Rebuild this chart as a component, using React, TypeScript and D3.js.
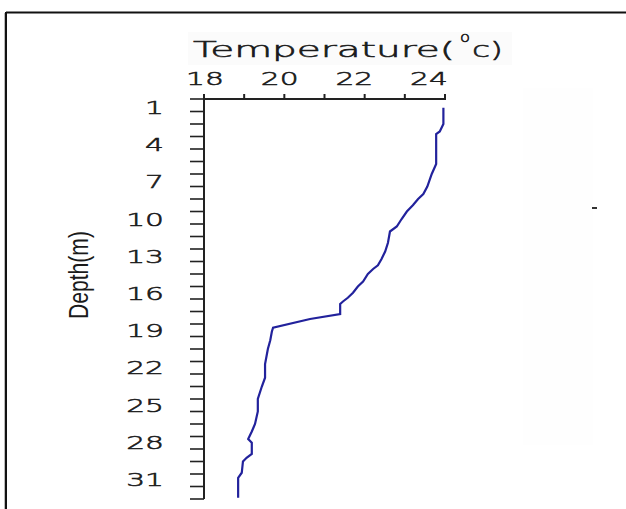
import React from "react";
import * as d3 from "d3";

const depths = [0.7, 2.0, 2.6, 2.8, 5.2, 6.0, 7.0, 7.6, 8.0, 8.5, 9.0, 9.6, 10.2, 10.6, 11.5, 12.2, 12.8, 13.3, 13.6, 14.0, 14.6, 15.0, 15.5, 15.9, 16.2, 16.4, 17.2, 17.6, 18.3, 18.6, 19.3, 20.0, 21.2, 22.3, 23.0, 24.0, 25.0, 26.0, 26.6, 27.2, 27.5, 28.4, 28.7, 29.0, 29.9, 30.3, 31.9];
const temps = [23.96, 23.96, 23.87, 23.78, 23.78, 23.67, 23.56, 23.46, 23.33, 23.2, 23.05, 22.92, 22.8, 22.63, 22.58, 22.51, 22.42, 22.33, 22.21, 22.08, 21.96, 21.83, 21.71, 21.58, 21.46, 21.39, 21.39, 20.64, 19.72, 19.69, 19.65, 19.59, 19.52, 19.52, 19.44, 19.34, 19.34, 19.27, 19.19, 19.1, 19.19, 19.19, 19.06, 18.97, 18.94, 18.85, 18.85];

const xTickValues = [18, 19, 20, 21, 22, 23, 24];
const xTickLabels = [18, 20, 22, 24];
const yTickValues = d3.range(0, 33);
const yTickLabels = [1, 4, 7, 10, 13, 16, 19, 22, 25, 28, 31];

const xLabel = "Temperature(";
const xUnitSup = "o";
const xUnit = "c)";
const yLabel = "Depth(m)";

export default function App() {
  const x = d3.scaleLinear().domain([18, 24]).range([204, 445]);
  const y = d3.scaleLinear().domain([0, 32]).range([99, 499]);
  // label placement scales (labels in the original are slightly offset from ticks)
  const xl = d3.scaleLinear().domain([18, 24]).range([205, 429]);
  const yl = d3.scaleLinear().domain([1, 31]).range([107.5, 479.5]);

  const pts = depths.map((d, i) => [temps[i], d] as [number, number]);
  const line = d3
    .line<[number, number]>()
    .x((p) => x(p[0]))
    .y((p) => y(p[1]))(pts);

  const textColor = "#1a1a1a";
  const font = "'Liberation Sans', Arial, sans-serif";
  const thin = "'DejaVu Sans', 'Liberation Sans', sans-serif";
  const thinStyle = {
    fontFamily: thin,
    fontWeight: 200,
    fill: textColor,
    stroke: textColor,
    strokeWidth: 0.55,
  } as React.CSSProperties;

  return (
    <svg
      width={626}
      height={509}
      style={{ position: "absolute", left: 0, top: 0, background: "#fff" }}
    >
      <rect x={0} y={0} width={626} height={509} fill="#fff" />
      {/* faint background patches */}
      <rect x={188} y={32} width={324} height={33} fill="#fbfbfb" />
      <rect x={523} y={88} width={70} height={357} fill="#fefefe" />
      {/* frame */}
      <line x1={6} y1={12.5} x2={626} y2={12.5} stroke="#111" strokeWidth={2} />
      <line x1={6} y1={12} x2={6} y2={509} stroke="#111" strokeWidth={2} />
      <line x1={4.5} y1={13} x2={4.5} y2={509} stroke="#bbb" strokeWidth={1} />
      <rect x={592} y={207} width={5} height={2} fill="#333" />

      {/* title */}
      <text x={193} y={57} fontSize={21} style={thinStyle} textLength={262} lengthAdjust="spacingAndGlyphs">
        {xLabel}
      </text>
      <text x={460} y={42} fontSize={14} style={thinStyle} textLength={10} lengthAdjust="spacingAndGlyphs">
        {xUnitSup}
      </text>
      <text x={472} y={57} fontSize={21} style={thinStyle} textLength={31} lengthAdjust="spacingAndGlyphs">
        {xUnit}
      </text>

      {/* y label */}
      <text
        transform={`translate(88,275) rotate(-90)`}
        fontFamily={font}
        fontSize={27}
        fill={textColor}
        textAnchor="middle"
        textLength={88}
        lengthAdjust="spacingAndGlyphs"
      >
        {yLabel}
      </text>

      {/* x axis */}
      <line x1={x(18)} y1={y(0)} x2={x(24) + 1} y2={y(0)} stroke="#222" strokeWidth={2} />
      {xTickValues.map((v) => (
        <line key={"xt" + v} x1={x(v)} y1={y(0)} x2={x(v)} y2={y(0) - 5} stroke="#222" strokeWidth={2} />
      ))}
      {xTickLabels.map((v) => (
        <text
          key={"xl" + v}
          transform={`translate(${xl(v)},85) scale(1.65,1)`}
          fontSize={18}
          style={thinStyle}
          textAnchor="middle"
        >
          {v}
        </text>
      ))}

      {/* y axis */}
      <line x1={x(18)} y1={y(0) - 5} x2={x(18)} y2={y(32)} stroke="#222" strokeWidth={2} />
      {yTickValues.map((v) => (
        <line key={"yt" + v} x1={x(18)} y1={y(v)} x2={x(18) - 14} y2={y(v)} stroke="#222" strokeWidth={1.6} />
      ))}
      {yTickLabels.map((v) => (
        <text
          key={"yl" + v}
          transform={`translate(164,${yl(v) + 6.5}) scale(1.65,1)`}
          fontSize={18}
          style={thinStyle}
          textAnchor="end"
        >
          {v}
        </text>
      ))}

      {/* data line */}
      <path d={line || ""} fill="none" stroke="#22229c" strokeWidth={2.2} />
    </svg>
  );
}
